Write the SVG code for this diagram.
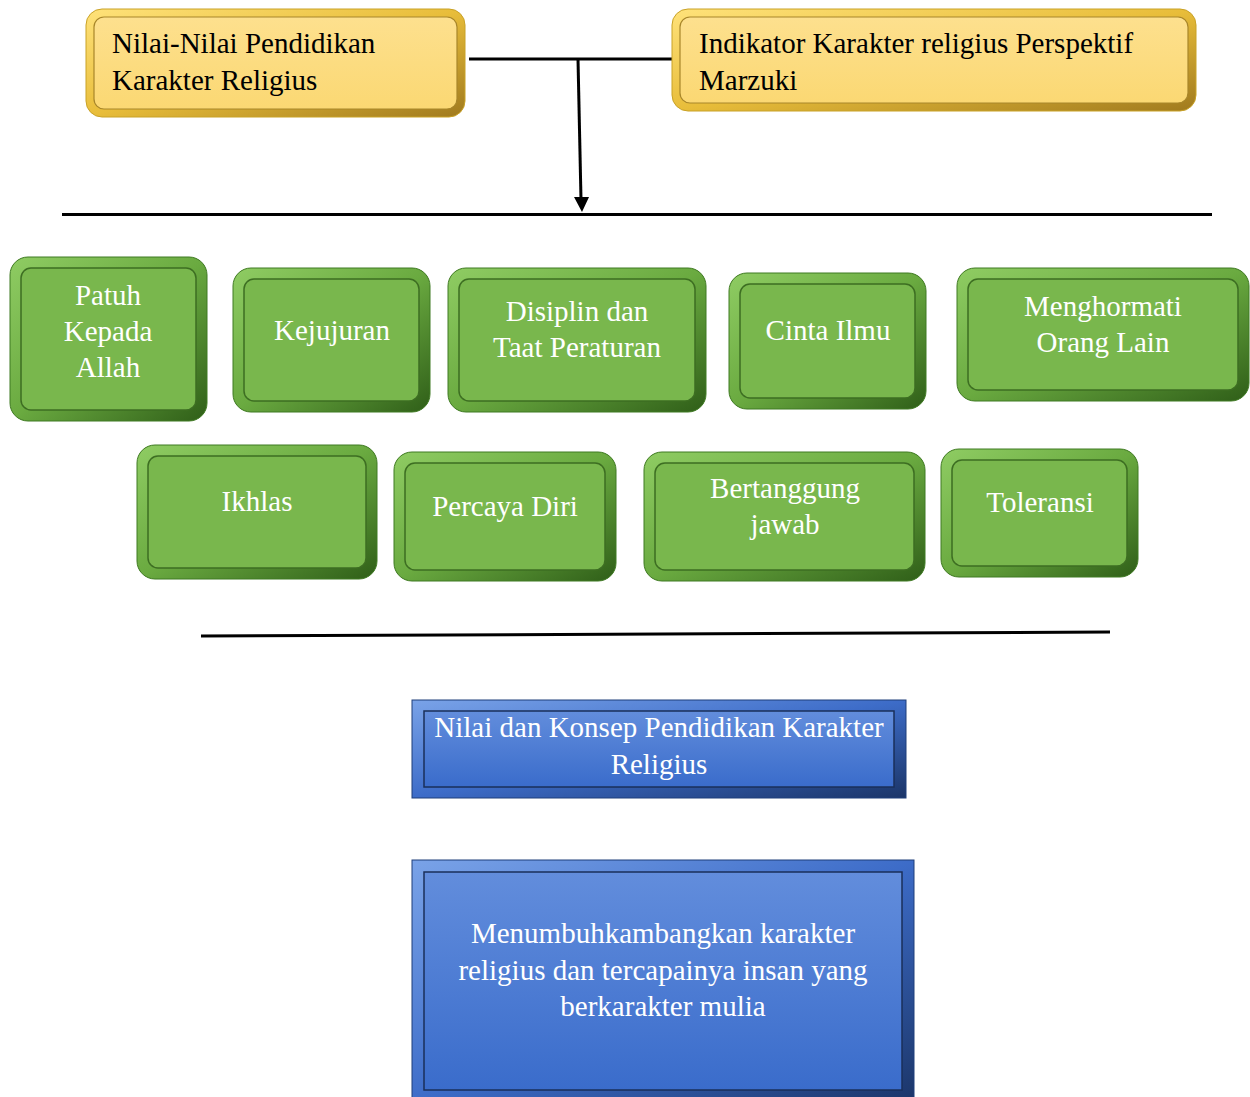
<svg xmlns="http://www.w3.org/2000/svg" width="1250" height="1097" viewBox="0 0 1250 1097">
<style>
.yt{font-family:"Liberation Serif","Times New Roman",serif;font-size:29px;fill:#000}
.wt{font-family:"Liberation Serif","Times New Roman",serif;font-size:29px;fill:#fff;text-anchor:middle}
.ln{stroke:#000;stroke-width:3;fill:none}
.yo{fill:url(#yo);stroke:#c9a227;stroke-width:1}
.yi{fill:url(#yi);stroke:#a8862a;stroke-width:1.2}
.go{fill:url(#go);stroke:#3f7a22;stroke-width:1}
.gi{fill:#79b74d;stroke:#3d6e22;stroke-width:1.5}
.bo{fill:url(#bo);stroke:#1f3f7a;stroke-width:1}
.bi{fill:url(#bi);stroke:#1a2f5a;stroke-width:1.5}
</style>
<defs>
<linearGradient id="yo" x1="0" y1="0" x2="1" y2="1"><stop offset="0" stop-color="#ffe27a"/><stop offset="0.5" stop-color="#e8bd3a"/><stop offset="1" stop-color="#a07a1e"/></linearGradient>
<linearGradient id="yi" x1="0" y1="0" x2="0" y2="1"><stop offset="0" stop-color="#fde08e"/><stop offset="1" stop-color="#fbd873"/></linearGradient>
<linearGradient id="go" x1="0" y1="0" x2="1" y2="1"><stop offset="0" stop-color="#8fcc63"/><stop offset="0.5" stop-color="#6aaa40"/><stop offset="1" stop-color="#2f5e18"/></linearGradient>
<linearGradient id="bo" x1="0" y1="0" x2="1" y2="1"><stop offset="0" stop-color="#7aa3e8"/><stop offset="0.5" stop-color="#3d6cc8"/><stop offset="1" stop-color="#1b3568"/></linearGradient>
<linearGradient id="bi" x1="0" y1="0" x2="0" y2="1"><stop offset="0" stop-color="#628ddc"/><stop offset="1" stop-color="#3a6ccb"/></linearGradient>
</defs>

<g id="connectors">
<line class="ln" x1="469" y1="59" x2="675" y2="59"/>
<path d="M578,59 L581,200" stroke="#000" stroke-width="3" fill="none"/>
<path d="M574,197 L589,197 L582,212 Z" fill="#000"/>
<line class="ln" x1="62" y1="214.5" x2="1212" y2="214.5"/>
<line class="ln" x1="201" y1="636" x2="1110" y2="632"/>
</g>

<g id="n-nilai">
<rect class="yo" x="86" y="9" width="379" height="108" rx="16"/>
<rect class="yi" x="94" y="17" width="363" height="92" rx="10"/>
<text class="yt" x="112" y="53">Nilai-Nilai Pendidikan</text>
<text class="yt" x="112" y="90">Karakter Religius</text>
</g>
<g id="n-indikator">
<rect class="yo" x="672" y="9" width="524" height="102" rx="16"/>
<rect class="yi" x="680" y="17" width="508" height="86" rx="10"/>
<text class="yt" x="699" y="53">Indikator Karakter religius Perspektif</text>
<text class="yt" x="699" y="90">Marzuki</text>
</g>

<g id="n-patuh">
<rect class="go" x="10" y="257" width="197" height="164" rx="18"/>
<rect class="gi" x="21" y="268" width="175" height="142" rx="10"/>
<text class="wt" x="108" y="305">Patuh</text>
<text class="wt" x="108" y="341">Kepada</text>
<text class="wt" x="108" y="377">Allah</text>
</g>
<g id="n-kejujuran">
<rect class="go" x="233" y="268" width="197" height="144" rx="18"/>
<rect class="gi" x="244" y="279" width="175" height="122" rx="10"/>
<text class="wt" x="332" y="340">Kejujuran</text>
</g>
<g id="n-disiplin">
<rect class="go" x="448" y="268" width="258" height="144" rx="18"/>
<rect class="gi" x="459" y="279" width="236" height="122" rx="10"/>
<text class="wt" x="577" y="321">Disiplin dan</text>
<text class="wt" x="577" y="357">Taat Peraturan</text>
</g>
<g id="n-cinta">
<rect class="go" x="729" y="273" width="197" height="136" rx="18"/>
<rect class="gi" x="740" y="284" width="175" height="114" rx="10"/>
<text class="wt" x="828" y="340">Cinta Ilmu</text>
</g>
<g id="n-menghormati">
<rect class="go" x="957" y="268" width="292" height="133" rx="18"/>
<rect class="gi" x="968" y="279" width="270" height="111" rx="10"/>
<text class="wt" x="1103" y="316">Menghormati</text>
<text class="wt" x="1103" y="352">Orang Lain</text>
</g>
<g id="n-ikhlas">
<rect class="go" x="137" y="445" width="240" height="134" rx="18"/>
<rect class="gi" x="148" y="456" width="218" height="112" rx="10"/>
<text class="wt" x="257" y="511">Ikhlas</text>
</g>
<g id="n-percaya">
<rect class="go" x="394" y="452" width="222" height="129" rx="18"/>
<rect class="gi" x="405" y="463" width="200" height="107" rx="10"/>
<text class="wt" x="505" y="516">Percaya Diri</text>
</g>
<g id="n-bertanggung">
<rect class="go" x="644" y="452" width="281" height="129" rx="18"/>
<rect class="gi" x="655" y="463" width="259" height="107" rx="10"/>
<text class="wt" x="785" y="498">Bertanggung</text>
<text class="wt" x="785" y="534">jawab</text>
</g>
<g id="n-toleransi">
<rect class="go" x="941" y="449" width="197" height="128" rx="18"/>
<rect class="gi" x="952" y="460" width="175" height="106" rx="10"/>
<text class="wt" x="1040" y="512">Toleransi</text>
</g>

<g id="n-konsep">
<rect class="bo" x="412" y="700" width="494" height="98"/>
<rect class="bi" x="424" y="711" width="470" height="76"/>
<text class="wt" x="659" y="737">Nilai dan Konsep Pendidikan Karakter</text>
<text class="wt" x="659" y="774">Religius</text>
</g>
<g id="n-tujuan">
<rect class="bo" x="412" y="860" width="502" height="245"/>
<rect class="bi" x="424" y="872" width="478" height="218"/>
<text class="wt" x="663" y="943">Menumbuhkambangkan karakter</text>
<text class="wt" x="663" y="980">religius dan tercapainya insan yang</text>
<text class="wt" x="663" y="1016">berkarakter mulia</text>
</g>
</svg>
